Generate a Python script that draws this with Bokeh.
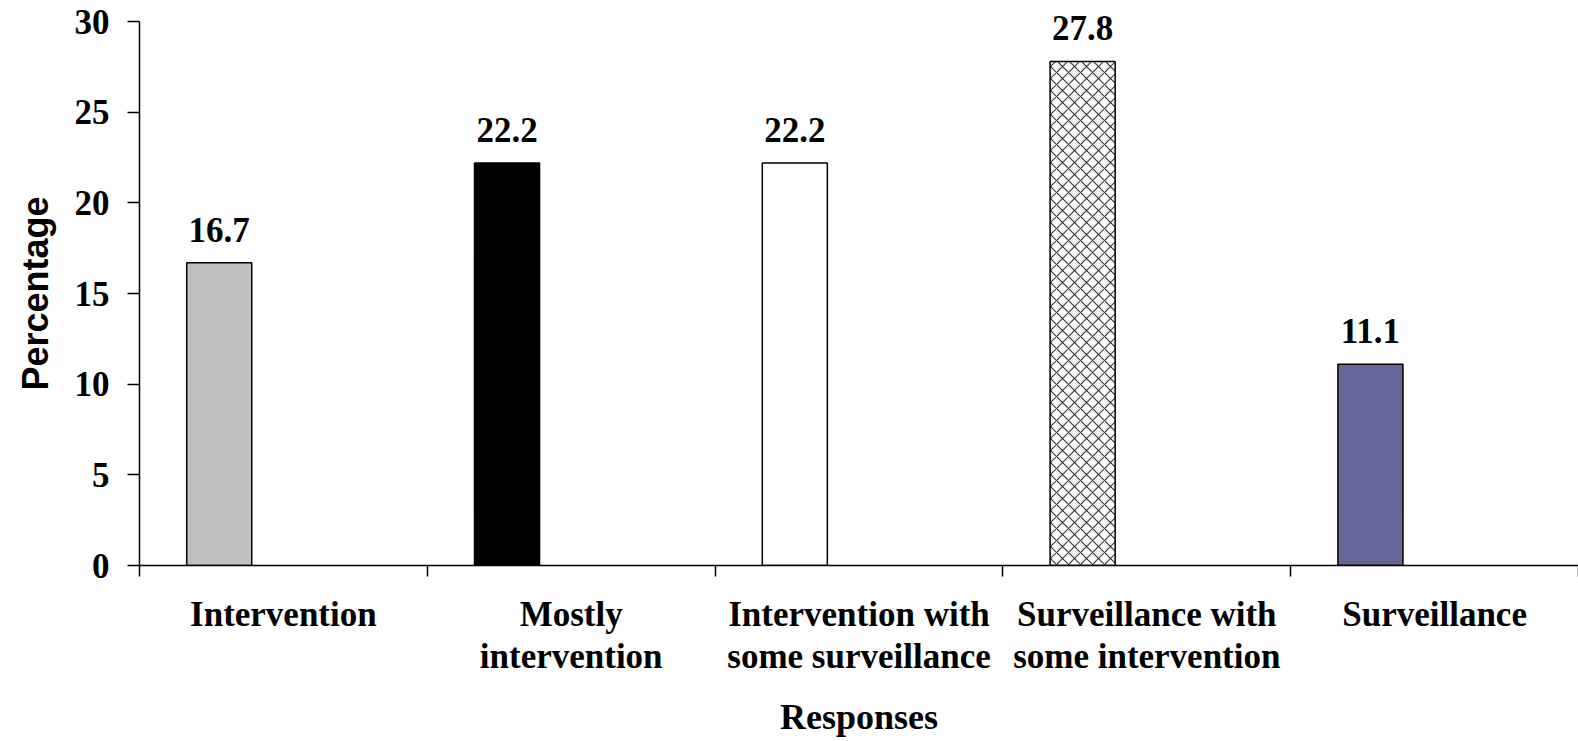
from bokeh.plotting import figure
from bokeh.models import ColumnDataSource, Range1d, FixedTicker, LabelSet, Title
from bokeh.embed import file_html
from bokeh.resources import INLINE

categories = ["Intervention", "Mostly\nintervention", "Intervention with\nsome surveillance",
              "Surveillance with\nsome intervention", "Surveillance"]
values = [16.7, 22.2, 22.2, 27.8, 11.1]
colors = ["#C0C0C0", "#000000", "#FFFFFF", "#FFFFFF", "#666699"]
hatches = ["blank", "blank", "blank", "x", "blank"]
y_ticks = [0, 5, 10, 15, 20, 25, 30]

n = len(categories)
slot_pos = list(range(n))
bar_x = [i + 0.277 for i in slot_pos]

src = ColumnDataSource(dict(
    x=bar_x, top=values, color=colors, hatch=hatches,
    label=[f"{v:.1f}" for v in values],
))

p = figure(width=1578, height=741, output_backend="svg", toolbar_location=None,
           x_range=Range1d(0, n), y_range=Range1d(0, 31.16),
           min_border_left=139, min_border_right=0, min_border_top=0, min_border_bottom=176)
p.outline_line_color = None
p.grid.visible = False
p.background_fill_color = "white"

p.vbar(x="x", top="top", width=0.226, bottom=0, source=src,
       fill_color="color", line_color="black", line_width=1.5,
       hatch_pattern="hatch", hatch_color="#3a3a3a", hatch_scale=12, hatch_weight=1.2)

labels = LabelSet(x="x", y="top", text="label", source=src, text_align="center",
                  text_baseline="alphabetic", y_offset=21,
                  text_font="Liberation Serif", text_font_style="bold",
                  text_font_size="35px", text_color="black")
p.add_layout(labels)

# x axis
xa = p.xaxis[0]
xa.ticker = FixedTicker(ticks=[i + 0.5 for i in slot_pos], minor_ticks=list(range(n + 1)))
xa.major_label_overrides = {i + 0.5: c for i, c in enumerate(categories)}
xa.major_tick_out = 0
xa.major_tick_in = 0
xa.minor_tick_out = 11
xa.minor_tick_in = 0
xa.minor_tick_line_color = "black"
xa.minor_tick_line_width = 1.5
xa.axis_line_color = "black"
xa.axis_line_width = 1.5
xa.major_label_standoff = 18
xa.major_label_text_font = "Liberation Serif"
xa.major_label_text_font_style = "bold"
xa.major_label_text_font_size = "35px"
xa.major_label_text_line_height = 1.1
xa.major_label_text_color = "black"
xa.axis_label = "Responses"
xa.axis_label_text_font = "Liberation Serif"
xa.axis_label_text_font_style = "bold"
xa.axis_label_text_font_size = "36px"
xa.axis_label_text_color = "black"
xa.axis_label_standoff = 18

# y axis
ya = p.yaxis[0]
ya.ticker = FixedTicker(ticks=y_ticks)
ya.bounds = (0, 30)
ya.minor_tick_line_color = None
ya.major_tick_out = 12
ya.major_tick_in = 0
ya.major_tick_line_color = "black"
ya.major_tick_line_width = 1.5
ya.axis_line_color = "black"
ya.axis_line_width = 1.5
ya.major_label_standoff = 18
ya.major_label_text_font = "Liberation Serif"
ya.major_label_text_font_style = "bold"
ya.major_label_text_font_size = "35px"
ya.major_label_text_color = "black"

ytitle = Title(text="Percentage", align="left", offset=175, standoff=28,
               vertical_align="top",
               text_font="Liberation Sans", text_font_style="bold",
               text_font_size="36px", text_color="black")
p.add_layout(ytitle, "left")

open("out.html", "w").write(file_html(p, INLINE))
